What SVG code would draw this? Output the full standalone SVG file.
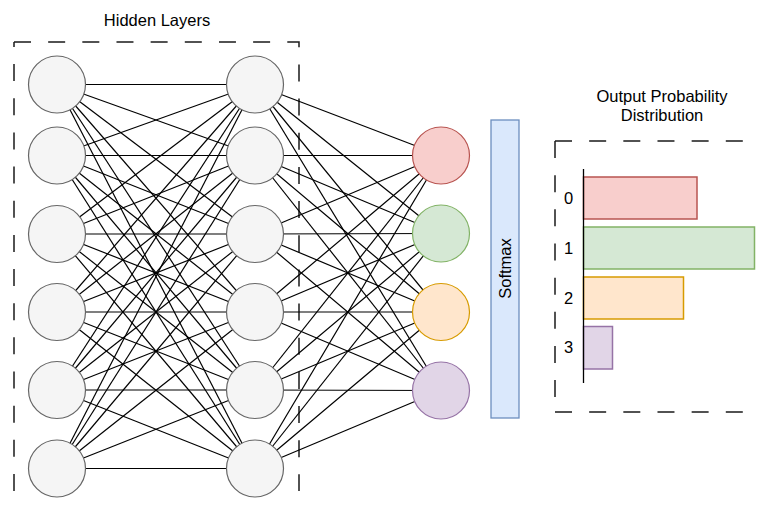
<svg xmlns="http://www.w3.org/2000/svg" width="760" height="506" viewBox="0 0 760 506">
  <style>
    .lbl { font-family: "Liberation Sans", Arial, Helvetica, sans-serif; font-size: 16.5px; fill: #000; }
    .mid { text-anchor: middle; }
    .dash { fill: none; stroke: #1a1a1a; stroke-width: 1.5; stroke-dasharray: 17 17.16; }
    .edge line { stroke: #000; stroke-width: 1.2; }
    .hidden circle { fill: #f5f5f5; stroke: #666666; stroke-width: 1.2; }
    .axis { stroke: #000; stroke-width: 1.3; }
  </style>

  <rect width="760" height="506" fill="#ffffff"/>

  <!-- Hidden layer frame -->
  <g id="hidden-frame">
    <path class="dash" d="M14,491 V42"/>
    <path class="dash" d="M14,42 H299 V491"/>
    <text class="lbl mid" x="157" y="26">Hidden Layers</text>
  </g>

  <!-- Connectors: hidden 1 -> hidden 2 (fully connected), hidden 2 -> output -->
  <g id="connectors" class="edge">
    <line x1="57" y1="84.5" x2="255" y2="84.5"/>
    <line x1="57" y1="84.5" x2="255" y2="155.5"/>
    <line x1="57" y1="84.5" x2="255" y2="234"/>
    <line x1="57" y1="84.5" x2="255" y2="312"/>
    <line x1="57" y1="84.5" x2="255" y2="390"/>
    <line x1="57" y1="84.5" x2="255" y2="468.5"/>

    <line x1="57" y1="155.5" x2="255" y2="84.5"/>
    <line x1="57" y1="155.5" x2="255" y2="155.5"/>
    <line x1="57" y1="155.5" x2="255" y2="234"/>
    <line x1="57" y1="155.5" x2="255" y2="312"/>
    <line x1="57" y1="155.5" x2="255" y2="390"/>
    <line x1="57" y1="155.5" x2="255" y2="468.5"/>

    <line x1="57" y1="234" x2="255" y2="84.5"/>
    <line x1="57" y1="234" x2="255" y2="155.5"/>
    <line x1="57" y1="234" x2="255" y2="234"/>
    <line x1="57" y1="234" x2="255" y2="312"/>
    <line x1="57" y1="234" x2="255" y2="390"/>
    <line x1="57" y1="234" x2="255" y2="468.5"/>

    <line x1="57" y1="312" x2="255" y2="84.5"/>
    <line x1="57" y1="312" x2="255" y2="155.5"/>
    <line x1="57" y1="312" x2="255" y2="234"/>
    <line x1="57" y1="312" x2="255" y2="312"/>
    <line x1="57" y1="312" x2="255" y2="390"/>
    <line x1="57" y1="312" x2="255" y2="468.5"/>

    <line x1="57" y1="390" x2="255" y2="84.5"/>
    <line x1="57" y1="390" x2="255" y2="155.5"/>
    <line x1="57" y1="390" x2="255" y2="234"/>
    <line x1="57" y1="390" x2="255" y2="312"/>
    <line x1="57" y1="390" x2="255" y2="390"/>
    <line x1="57" y1="390" x2="255" y2="468.5"/>

    <line x1="57" y1="468.5" x2="255" y2="84.5"/>
    <line x1="57" y1="468.5" x2="255" y2="155.5"/>
    <line x1="57" y1="468.5" x2="255" y2="234"/>
    <line x1="57" y1="468.5" x2="255" y2="312"/>
    <line x1="57" y1="468.5" x2="255" y2="390"/>
    <line x1="57" y1="468.5" x2="255" y2="468.5"/>

    <line x1="255" y1="84.5" x2="441" y2="155.5"/>
    <line x1="255" y1="84.5" x2="441" y2="233.5"/>
    <line x1="255" y1="84.5" x2="441" y2="312"/>
    <line x1="255" y1="84.5" x2="441" y2="390.5"/>

    <line x1="255" y1="155.5" x2="441" y2="155.5"/>
    <line x1="255" y1="155.5" x2="441" y2="233.5"/>
    <line x1="255" y1="155.5" x2="441" y2="312"/>
    <line x1="255" y1="155.5" x2="441" y2="390.5"/>

    <line x1="255" y1="234" x2="441" y2="155.5"/>
    <line x1="255" y1="234" x2="441" y2="233.5"/>
    <line x1="255" y1="234" x2="441" y2="312"/>
    <line x1="255" y1="234" x2="441" y2="390.5"/>

    <line x1="255" y1="312" x2="441" y2="155.5"/>
    <line x1="255" y1="312" x2="441" y2="233.5"/>
    <line x1="255" y1="312" x2="441" y2="312"/>
    <line x1="255" y1="312" x2="441" y2="390.5"/>

    <line x1="255" y1="390" x2="441" y2="155.5"/>
    <line x1="255" y1="390" x2="441" y2="233.5"/>
    <line x1="255" y1="390" x2="441" y2="312"/>
    <line x1="255" y1="390" x2="441" y2="390.5"/>

    <line x1="255" y1="468.5" x2="441" y2="155.5"/>
    <line x1="255" y1="468.5" x2="441" y2="233.5"/>
    <line x1="255" y1="468.5" x2="441" y2="312"/>
    <line x1="255" y1="468.5" x2="441" y2="390.5"/>
  </g>

  <!-- First hidden layer -->
  <g class="hidden">
    <g id="h1-1"><circle cx="57" cy="84.5" r="28.5"/></g>
    <g id="h1-2"><circle cx="57" cy="155.5" r="28.5"/></g>
    <g id="h1-3"><circle cx="57" cy="234" r="28.5"/></g>
    <g id="h1-4"><circle cx="57" cy="312" r="28.5"/></g>
    <g id="h1-5"><circle cx="57" cy="390" r="28.5"/></g>
    <g id="h1-6"><circle cx="57" cy="468.5" r="28.5"/></g>
  </g>

  <!-- Second hidden layer -->
  <g class="hidden">
    <g id="h2-1"><circle cx="255" cy="84.5" r="28.5"/></g>
    <g id="h2-2"><circle cx="255" cy="155.5" r="28.5"/></g>
    <g id="h2-3"><circle cx="255" cy="234" r="28.5"/></g>
    <g id="h2-4"><circle cx="255" cy="312" r="28.5"/></g>
    <g id="h2-5"><circle cx="255" cy="390" r="28.5"/></g>
    <g id="h2-6"><circle cx="255" cy="468.5" r="28.5"/></g>
  </g>

  <!-- Output layer -->
  <g id="out-0"><circle cx="441" cy="155.5" r="28.5" fill="#f8cecc" stroke="#b85450" stroke-width="1.2"/></g>
  <g id="out-1"><circle cx="441" cy="233.5" r="28.5" fill="#d5e8d4" stroke="#82b366" stroke-width="1.2"/></g>
  <g id="out-2"><circle cx="441" cy="312" r="28.5" fill="#ffe6cc" stroke="#d79b00" stroke-width="1.2"/></g>
  <g id="out-3"><circle cx="441" cy="390.5" r="28.5" fill="#e1d5e7" stroke="#9673a6" stroke-width="1.2"/></g>

  <!-- Softmax block -->
  <g id="softmax">
    <rect x="491" y="120" width="28" height="298" fill="#dae8fc" stroke="#6c8ebf" stroke-width="1.3"/>
    <text class="lbl mid" transform="translate(510.5,268.5) rotate(-90)">Softmax</text>
  </g>

  <!-- Output probability chart -->
  <g id="prob-chart">
    <text class="lbl mid" x="662" y="101.5">Output Probability</text>
    <text class="lbl mid" x="662" y="120.5">Distribution</text>
    <path class="dash" d="M555,141 H775"/>
    <path class="dash" d="M555,141 V412"/>
    <path class="dash" d="M555,412 H775"/>

    <rect x="583.5" y="177" width="113.5" height="42" fill="#f8cecc" stroke="#b85450" stroke-width="1.5"/>
    <rect x="583.5" y="227" width="171" height="42" fill="#d5e8d4" stroke="#82b366" stroke-width="1.5"/>
    <rect x="583.5" y="277" width="100" height="42" fill="#ffe6cc" stroke="#d79b00" stroke-width="1.5"/>
    <rect x="583.5" y="326.5" width="29" height="42.5" fill="#e1d5e7" stroke="#9673a6" stroke-width="1.5"/>
    <line class="axis" x1="583.5" y1="169" x2="583.5" y2="383"/>

    <text class="lbl mid" x="568.5" y="203.5">0</text>
    <text class="lbl mid" x="568.5" y="253.5">1</text>
    <text class="lbl mid" x="568.5" y="303.5">2</text>
    <text class="lbl mid" x="568.5" y="353">3</text>
  </g>
</svg>
